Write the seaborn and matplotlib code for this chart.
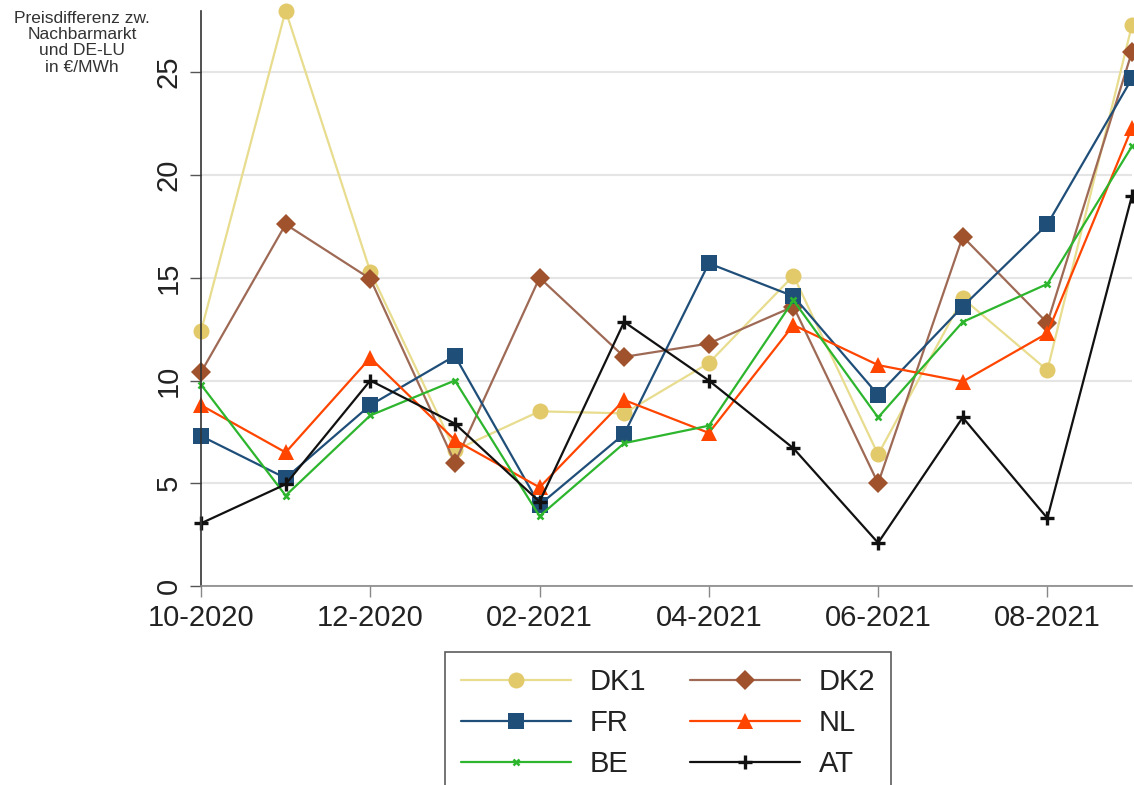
import matplotlib
matplotlib.use("Agg")
import matplotlib.pyplot as plt
import seaborn as sns
import numpy as np
import pandas as pd

months = ["10-2020", "11-2020", "12-2020", "01-2021", "02-2021", "03-2021",
          "04-2021", "05-2021", "06-2021", "07-2021", "08-2021", "09-2021"]
dk1 = [12.4, 28.0, 15.3, 6.6, 8.5, 8.4, 10.85, 15.1, 6.4, 14.0, 10.5, 27.3]
dk2 = [10.4, 17.6, 14.95, 6.0, 15.0, 11.15, 11.8, 13.6, 5.0, 17.0, 12.8, 26.0]
fr = [7.3, 5.25, 8.8, 11.2, 3.95, 7.4, 15.7, 14.1, 9.3, 13.6, 17.6, 24.7]
nl = [8.8, 6.5, 11.1, 7.1, 4.8, 9.05, 7.45, 12.7, 10.75, 9.95, 12.3, 22.3]
be = [9.8, 4.4, 8.3, 10.0, 3.4, 6.95, 7.8, 13.9, 8.2, 12.85, 14.7, 21.4]
at = [3.05, 4.95, 10.0, 7.9, 4.1, 12.85, 10.0, 6.7, 2.1, 8.2, 3.3, 19.0]
tick_labels = ["10-2020", "12-2020", "02-2021", "04-2021", "06-2021", "08-2021"]
y_label = "Preisdifferenz zw.\nNachbarmarkt\nund DE-LU\nin €/MWh"

sns.set_theme(style="white")
plt.rcParams["font.family"] = ["Liberation Sans", "DejaVu Sans"]

fig = plt.figure(figsize=(11.34, 7.85), dpi=100)
ax = fig.add_axes([201 / 1134, 199 / 785, (1132 - 201) / 1134, (586 - 10.6) / 785])

x = np.arange(len(months))
series = [
    ("DK1", dk1, dict(color="#E8DC8E", marker="o", markersize=11.5, markerfacecolor="#E2C96A", markeredgecolor="#E2C96A", markeredgewidth=0)),
    ("DK2", dk2, dict(color="#9E6A55", marker="D", markersize=10.5, markerfacecolor="#A0522D", markeredgecolor="#A0522D", markeredgewidth=0)),
    ("FR", fr, dict(color="#1F4E79", marker="s", markersize=11, markerfacecolor="#1F4E79", markeredgecolor="#1F4E79", markeredgewidth=0)),
    ("NL", nl, dict(color="#FF4500", marker="^", markersize=11.5, markerfacecolor="#FF4500", markeredgecolor="#FF4500", markeredgewidth=0)),
    ("BE", be, dict(color="#2DB52D", marker="x", markersize=5, markeredgecolor="#2DB52D", markeredgewidth=1.8)),
    ("AT", at, dict(color="#111111", marker="+", markersize=10, markeredgecolor="#111111", markeredgewidth=2.4)),
]

handles = {}
for name, vals, kw in series:
    df = pd.DataFrame({"x": x, "y": vals})
    sns.lineplot(data=df, x="x", y="y", ax=ax, linewidth=1.6, clip_on=False,
                 label=name, legend=False, **kw)
    handles[name] = ax.get_lines()[-1]

ax.set_xlim(0, 11)
ax.set_ylim(0, 28)
ax.set_xticks(x[::2])
ax.set_xticklabels(tick_labels, fontsize=21)
ax.set_yticks([0, 5, 10, 15, 20, 25])
ax.set_yticklabels(["0", "5", "10", "15", "20", "25"], fontsize=21, rotation=90, va="center")
ax.set_xlabel("")
ax.set_ylabel("")
ax.yaxis.grid(True, color="#E5E5E5", linewidth=1.5)
ax.xaxis.grid(False)
ax.set_axisbelow(True)
for s in ["top", "right"]:
    ax.spines[s].set_visible(False)
ax.spines["left"].set_color("#333333")
ax.spines["left"].set_linewidth(1.2)
ax.spines["bottom"].set_color("#888888")
ax.spines["bottom"].set_linewidth(1.2)
ax.tick_params(axis="y", direction="out", length=8, width=1.0, color="#555555", pad=5, left=True)
ax.tick_params(axis="x", direction="out", length=8, width=1.0, color="#888888", pad=5, bottom=True)
for lab in ax.get_xticklabels() + ax.get_yticklabels():
    lab.set_color("#222222")

fig.text(82 / 1134, 1 - 11 / 785, y_label, ha="center", va="top", fontsize=12.5,
         color="#333333", linespacing=1.1)

order = ["DK1", "FR", "BE", "DK2", "NL", "AT"]
leg = fig.legend([handles[n] for n in order], order, ncol=2, loc="upper center",
                 bbox_to_anchor=(668 / 1134, 1 - 652 / 785), fontsize=21,
                 frameon=True, fancybox=False, edgecolor="#333333",
                 handlelength=3.77, handletextpad=0.65, columnspacing=1.5,
                 labelspacing=0.44, borderpad=0.55, borderaxespad=0)
leg.get_frame().set_linewidth(1.2)
for t in leg.get_texts():
    t.set_color("#222222")

fig.savefig("out.png", dpi=100)
